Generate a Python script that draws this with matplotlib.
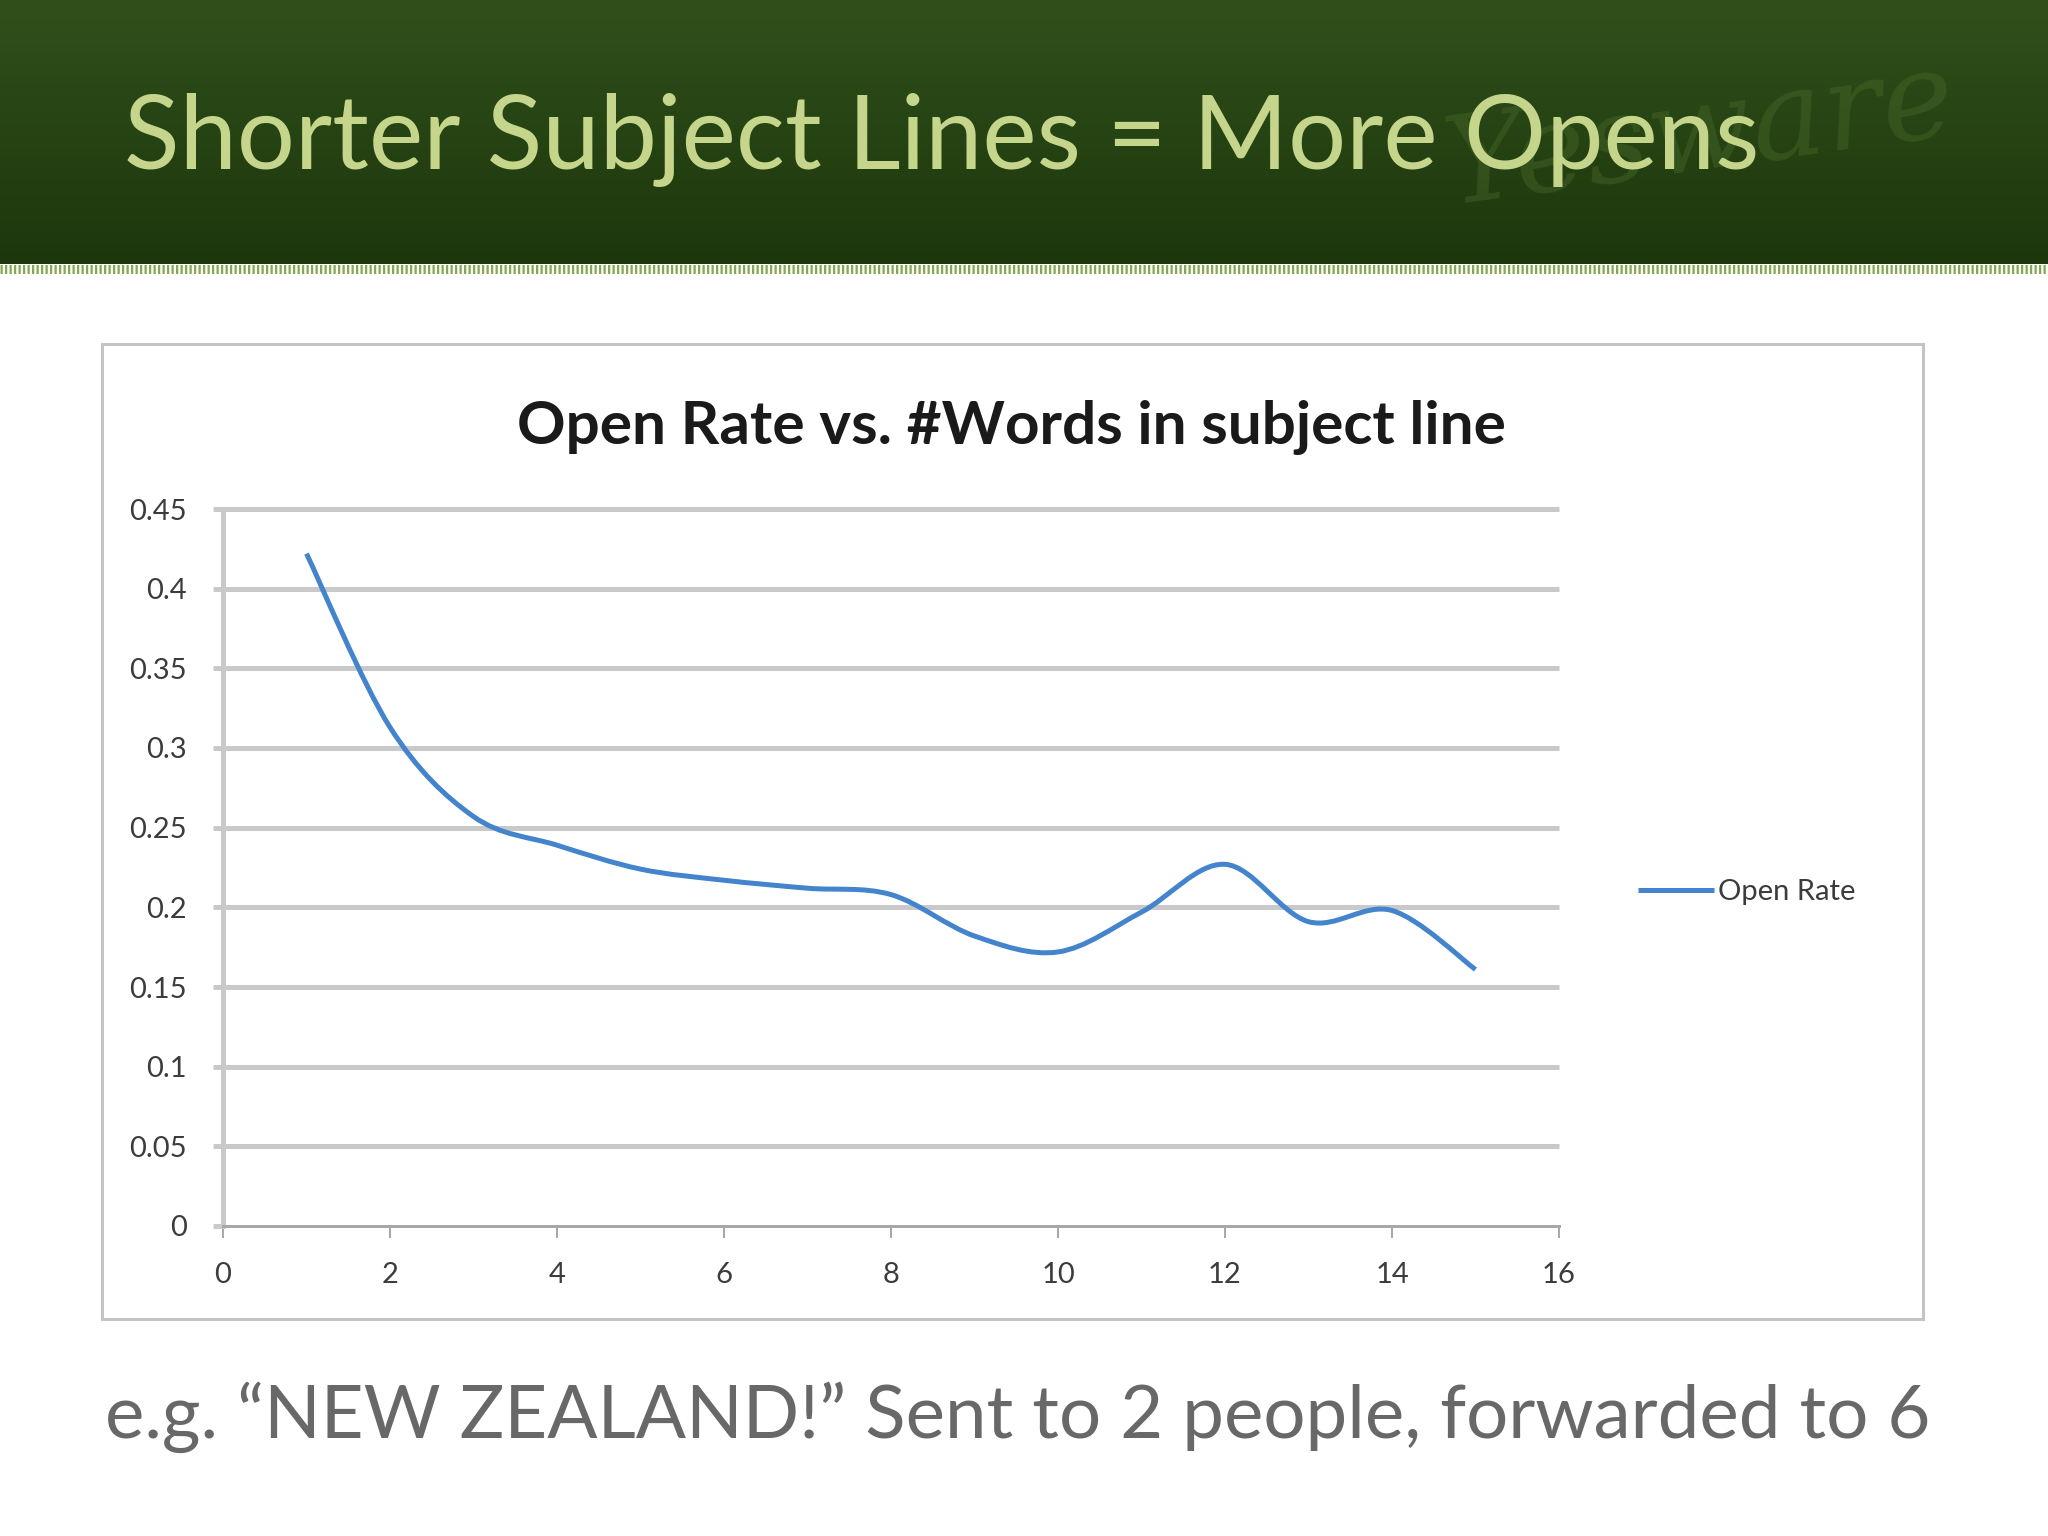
import numpy as np
import matplotlib
matplotlib.use('Agg')
import matplotlib.pyplot as plt
from matplotlib.path import Path
from matplotlib.patches import PathPatch, Rectangle
from matplotlib.lines import Line2D

# ============ DATA ============
words = [1, 2, 3, 4, 5, 6, 7, 8, 9, 10, 11, 12, 13, 14, 15]
open_rate = [0.422, 0.313, 0.257, 0.239, 0.224, 0.217, 0.212, 0.208,
             0.182, 0.172, 0.197, 0.227, 0.191, 0.198, 0.161]
x_ticks = [0, 2, 4, 6, 8, 10, 12, 14, 16]
y_ticks = [0, 0.05, 0.1, 0.15, 0.2, 0.25, 0.3, 0.35, 0.4, 0.45]
y_labels = ['0', '0.05', '0.1', '0.15', '0.2', '0.25', '0.3', '0.35', '0.4', '0.45']

slide_title = 'Shorter Subject Lines = More Opens'
chart_title = 'Open Rate vs. #Words in subject line'
series_name = 'Open Rate'
footnote = 'e.g. \u201cNEW ZEALAND!\u201d Sent to 2 people, forwarded to 6'

# ============ STYLE ============
W, H = 2048, 1536
PX = 72 / 100  # points per pixel at dpi 100
FONT = ['Lato', 'DejaVu Sans']
BLUE = '#4384cc'
GRID = '#c9c9c9'
plt.rcParams['font.family'] = FONT


def smooth_path(xs, ys):
    """Excel-like smoothed line: bezier segments with catmull-rom control points"""
    p = np.column_stack([xs, ys]).astype(float)
    ext = np.vstack([p[0], p, p[-1]])
    verts = [p[0]]
    codes = [Path.MOVETO]
    for i in range(len(p) - 1):
        a, b = ext[i + 1], ext[i + 2]
        c1 = a + (ext[i + 2] - ext[i]) / 6
        c2 = b - (ext[i + 3] - ext[i + 1]) / 6
        verts += [c1, c2, b]
        codes += [Path.CURVE4] * 3
    return Path(verts, codes)


fig = plt.figure(figsize=(W / 100, H / 100), dpi=100)
fig.patch.set_facecolor('white')


def fit_text(t, width):
    r = fig.canvas.get_renderer()
    w = t.get_window_extent(r).width
    t.set_fontsize(t.get_fontsize() * width / w)


# ============ BACKGROUND (pixel coords) ============
bg = fig.add_axes([0, 0, 1, 1])
bg.set_xlim(0, W)
bg.set_ylim(H, 0)
bg.axis('off')

top = np.array([0x30, 0x50, 0x1b]) / 255
bot = np.array([0x1d, 0x37, 0x0c]) / 255
g = np.linspace(0, 1, 256)[:, None]
grad = (top * (1 - g) + bot * g)[:, None, :]
bg.imshow(grad, extent=[0, W, 264, 0], aspect='auto', zorder=0)

# faint logo watermark in the header
bg.text(1700, 135, 'Yesware', fontsize=88, family='DejaVu Serif',
        style='italic', color='#4a6d2c', alpha=0.4, rotation=8,
        ha='center', va='center', zorder=1)

bg.plot([0, W], [269, 269], color='#86a853', lw=9 * PX,
        linestyle=(0, (0.25, 0.25)), solid_capstyle='butt', zorder=1)

t = bg.text(124, 169, slide_title, color='#c5d58b', fontsize=60,
            ha='left', va='baseline', zorder=2)
fit_text(t, 1636)

bg.add_patch(Rectangle((102, 344), 1923 - 102, 1319 - 344, fill=False,
                       edgecolor='#c4c4c4', lw=3 * PX, zorder=1))

t = bg.text(1011, 444, chart_title, color='#1a1a1a', fontsize=36,
            fontweight='bold', ha='center', va='baseline', zorder=2)
fit_text(t, 987)

t = bg.text(105, 1438, footnote, color='#686868', fontsize=50,
            ha='left', va='baseline', zorder=2)
fit_text(t, 1826)

# ============ CHART ============
ax = fig.add_axes([223 / W, 1 - 1226 / H, (1559 - 223) / W, (1226 - 509) / H])
ax.set_xlim(0, 16)
ax.set_ylim(0, 0.45)
ax.patch.set_alpha(0)

ax.hlines(y_ticks[1:], 0, 16, color=GRID, lw=5 * PX, clip_on=False, zorder=1)

curve = PathPatch(smooth_path(words, open_rate), fill=False, edgecolor=BLUE,
                  lw=5 * PX, capstyle='butt', joinstyle='round', zorder=3)
ax.add_patch(curve)

for s in ['top', 'right']:
    ax.spines[s].set_visible(False)
ax.spines['left'].set_color(GRID)
ax.spines['left'].set_linewidth(5 * PX)
ax.spines['bottom'].set_color('#a8a8a8')
ax.spines['bottom'].set_linewidth(3 * PX)

ax.set_yticks(y_ticks)
ax.set_yticklabels(y_labels)
ax.set_xticks(x_ticks)
ax.tick_params(axis='y', direction='out', length=10 * PX, width=5 * PX,
               color=GRID, pad=26 * PX, labelsize=21, labelcolor='#3c3c3c')
ax.tick_params(axis='x', direction='out', length=12 * PX, width=2 * PX,
               color='#a8a8a8', pad=24 * PX, labelsize=21, labelcolor='#3c3c3c')

handle = Line2D([], [], color=BLUE, lw=5 * PX, solid_capstyle='butt')
ax.legend([handle], [series_name], loc='center left', frameon=False,
          bbox_to_anchor=(1638 / W, 1 - 892 / H), bbox_transform=fig.transFigure,
          borderpad=0, borderaxespad=0, handlelength=2.6, handletextpad=0.15,
          fontsize=21, labelcolor='#3c3c3c')

fig.savefig('out.png', dpi=100, facecolor=fig.get_facecolor())
